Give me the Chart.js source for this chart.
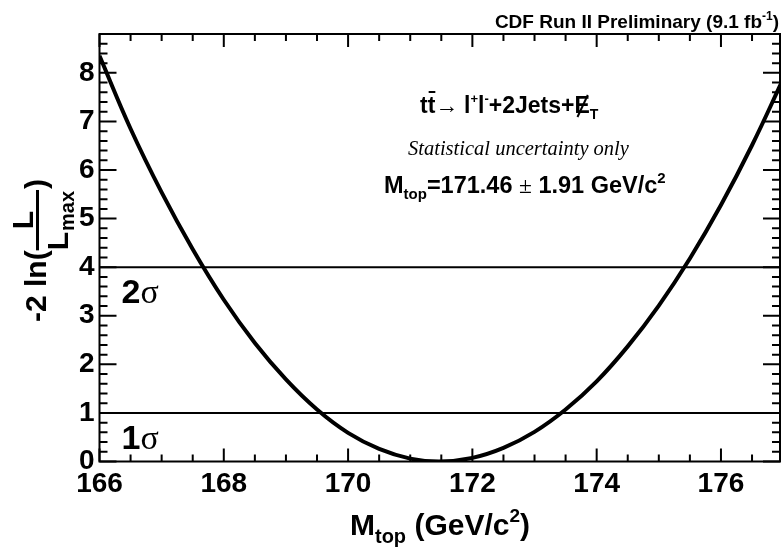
<!DOCTYPE html>
<html>
<head>
<meta charset="utf-8">
<script src="https://cdn.jsdelivr.net/npm/chart.js@4"></script>
<style>
  body { margin: 0; background: #fff; }
  canvas { display: block; }
</style>
</head>
<body>
<canvas id="nllChart" width="783" height="552"></canvas>
<script>
// -2 ln(L/Lmax), per top-mass value (GeV/c^2)
const massValues = [166, 166.5, 167, 167.5, 168, 168.5, 169, 169.5, 170, 170.5, 171, 171.46,
                    172, 172.5, 173, 173.5, 174, 174.5, 175, 175.5, 176, 176.5, 177];
const nllValues = [8.35, 6.85, 5.54, 4.37, 3.33, 2.44, 1.69, 1.07, 0.59, 0.26, 0.06, 0.0,
                   0.075, 0.28, 0.61, 1.07, 1.65, 2.37, 3.21, 4.18, 5.28, 6.51, 7.87];

// horizontal 1 sigma / 2 sigma levels
const sigmaLevels = [1, 4];
const sigmaLabels = ['1', '2'];

// axis tick labels
const xTickLabels = [166, 168, 170, 172, 174, 176];
const yTickLabels = [0, 1, 2, 3, 4, 5, 6, 7, 8];

const SANS = '"Liberation Sans", Arial, sans-serif';
const SERIF = '"Liberation Serif", "Times New Roman", serif';

// draw a list of text pieces one after another on a baseline
function drawRuns(ctx, x, y, runs) {
    let cx = x;
    runs.forEach(r => {
        ctx.font = r.font;
        const w = ctx.measureText(r.t).width;
        ctx.fillText(r.t, cx, y + (r.dy || 0));
        if (r.over) {
            ctx.fillRect(cx + 1, y - 22, w - 1, 2);
        }
        if (r.slash) {
            ctx.save();
            ctx.lineWidth = 2;
            ctx.beginPath();
            ctx.moveTo(cx + 3, y + 4);
            ctx.lineTo(cx + w - 2, y - 18);
            ctx.stroke();
            ctx.restore();
        }
        cx += w + (r.gap || 0);
    });
    return cx - x;
}

function runsWidth(ctx, runs) {
    let w = 0;
    runs.forEach(r => { ctx.font = r.font; w += ctx.measureText(r.t).width + (r.gap || 0); });
    return w;
}

const framePlugin = {
    id: 'framePlugin',
    afterDraw(chart) {
        const { ctx, chartArea: a, scales: { x, y } } = chart;
        ctx.save();
        ctx.strokeStyle = '#000';
        ctx.fillStyle = '#000';
        ctx.lineWidth = 2;
        ctx.strokeRect(a.left, a.top, a.right - a.left, a.bottom - a.top);

        // inner ticks, ROOT style
        ctx.beginPath();
        for (let i = 0; 166 + i * 0.5 <= x.max + 1e-6; i++) {
            const px = x.getPixelForValue(166 + i * 0.5);
            const len = i % 4 === 0 ? 13 : 7;
            ctx.moveTo(px, a.bottom); ctx.lineTo(px, a.bottom - len);
            ctx.moveTo(px, a.top); ctx.lineTo(px, a.top + len);
        }
        for (let i = 0; i * 0.2 <= y.max + 1e-6; i++) {
            const py = y.getPixelForValue(i * 0.2);
            const len = i % 5 === 0 ? 17 : 8;
            ctx.moveTo(a.left, py); ctx.lineTo(a.left + len, py);
            ctx.moveTo(a.right, py); ctx.lineTo(a.right - len, py);
        }
        ctx.stroke();

        ctx.textBaseline = 'alphabetic';
        ctx.textAlign = 'left';

        // header
        const head = [
            { t: 'CDF Run II Preliminary (9.1 fb', font: `bold 19px ${SANS}` },
            { t: '-1', font: `bold 12px ${SANS}`, dy: -8 },
            { t: ')', font: `bold 19px ${SANS}` }
        ];
        drawRuns(ctx, 779 - runsWidth(ctx, head), 28, head);

        // process label
        drawRuns(ctx, 420, 113, [
            { t: 't', font: `bold 23px ${SANS}` },
            { t: 't', font: `bold 23px ${SANS}`, over: true },
            { t: '\u2192 ', font: `23px ${SERIF}` },
            { t: 'l', font: `bold 23px ${SANS}` },
            { t: '+', font: `bold 13px ${SANS}`, dy: -10 },
            { t: 'l', font: `bold 23px ${SANS}` },
            { t: '-', font: `bold 13px ${SANS}`, dy: -10 },
            { t: '+2Jets+', font: `bold 23px ${SANS}` },
            { t: 'E', font: `bold 23px ${SANS}`, slash: true },
            { t: 'T', font: `bold 14px ${SANS}`, dy: 6 }
        ]);

        ctx.font = `italic 20.5px ${SERIF}`;
        ctx.fillText('Statistical uncertainty only', 408, 155);

        drawRuns(ctx, 384, 193, [
            { t: 'M', font: `bold 23.5px ${SANS}` },
            { t: 'top', font: `bold 15px ${SANS}`, dy: 6 },
            { t: '=171.46 ', font: `bold 23.5px ${SANS}` },
            { t: '\u00b1', font: `23.5px ${SERIF}` },
            { t: ' 1.91 GeV/c', font: `bold 23.5px ${SANS}` },
            { t: '2', font: `bold 15px ${SANS}`, dy: -10 }
        ]);

        // sigma labels next to the level lines
        sigmaLevels.forEach((lvl, i) => {
            const py = y.getPixelForValue(lvl);
            drawRuns(ctx, a.left + 22, py + 36, [
                { t: sigmaLabels[i], font: `bold 34px ${SANS}` },
                { t: '\u03c3', font: `34px ${SERIF}` }
            ]);
        });

        // x axis title
        const xt = [
            { t: 'M', font: `bold 30px ${SANS}` },
            { t: 'top', font: `bold 20px ${SANS}`, dy: 8 },
            { t: ' (GeV/c', font: `bold 30px ${SANS}` },
            { t: '2', font: `bold 19px ${SANS}`, dy: -13 },
            { t: ')', font: `bold 30px ${SANS}` }
        ];
        drawRuns(ctx, 350, 535, xt);

        // y axis title: -2 ln(L / Lmax), rotated
        ctx.translate(0, 322);
        ctx.rotate(-Math.PI / 2);
        const w1 = drawRuns(ctx, 0, 46, [{ t: '-2 ln(', font: `bold 30px ${SANS}` }]);
        ctx.font = `bold 30px ${SANS}`;
        const wL = ctx.measureText('L').width;
        ctx.font = `bold 20px ${SANS}`;
        const wMax = ctx.measureText('max').width;
        const fw = wL + wMax + 2;
        ctx.fillRect(w1, 36, fw, 3);
        ctx.font = `bold 30px ${SANS}`;
        ctx.fillText('L', w1 + (fw - wL) / 2, 33);
        ctx.fillText('L', w1, 68);
        ctx.font = `bold 20px ${SANS}`;
        ctx.fillText('max', w1 + wL + 1, 74);
        ctx.font = `bold 30px ${SANS}`;
        ctx.fillText(')', w1 + fw + 1, 46);

        ctx.restore();
    }
};

const tickFont = { family: SANS, size: 28, weight: 'bold' };

new Chart(document.getElementById('nllChart'), {
    type: 'line',
    data: {
        datasets: [
            {
                data: massValues.map((m, i) => ({ x: m, y: nllValues[i] })),
                borderColor: '#000',
                borderWidth: 4,
                pointRadius: 0,
                tension: 0.4,
                fill: false
            },
            ...sigmaLevels.map(lvl => ({
                data: [{ x: massValues[0], y: lvl }, { x: massValues[massValues.length - 1], y: lvl }],
                borderColor: '#000',
                borderWidth: 2,
                pointRadius: 0,
                fill: false
            }))
        ]
    },
    options: {
        responsive: false,
        animation: false,
        devicePixelRatio: 1,
        layout: { padding: { top: 34, right: 3, left: 0, bottom: 0 } },
        plugins: { legend: { display: false }, tooltip: { enabled: false } },
        scales: {
            x: {
                type: 'linear',
                min: 166,
                max: 176.95,
                afterBuildTicks: s => { s.ticks = xTickLabels.map(v => ({ value: v })); },
                afterFit: s => { s.height = 90.5; },
                grid: { display: false, drawTicks: false },
                border: { display: false },
                ticks: { font: tickFont, color: '#000', padding: 6, maxRotation: 0, autoSkip: false }
            },
            y: {
                type: 'linear',
                min: 0,
                max: 8.8,
                afterBuildTicks: s => { s.ticks = yTickLabels.map(v => ({ value: v })); },
                afterFit: s => { s.width = 99.5; },
                grid: { display: false, drawTicks: false },
                border: { display: false },
                ticks: { font: tickFont, color: '#000', padding: 5, autoSkip: false }
            }
        }
    },
    plugins: [framePlugin]
});
</script>
</body>
</html>
